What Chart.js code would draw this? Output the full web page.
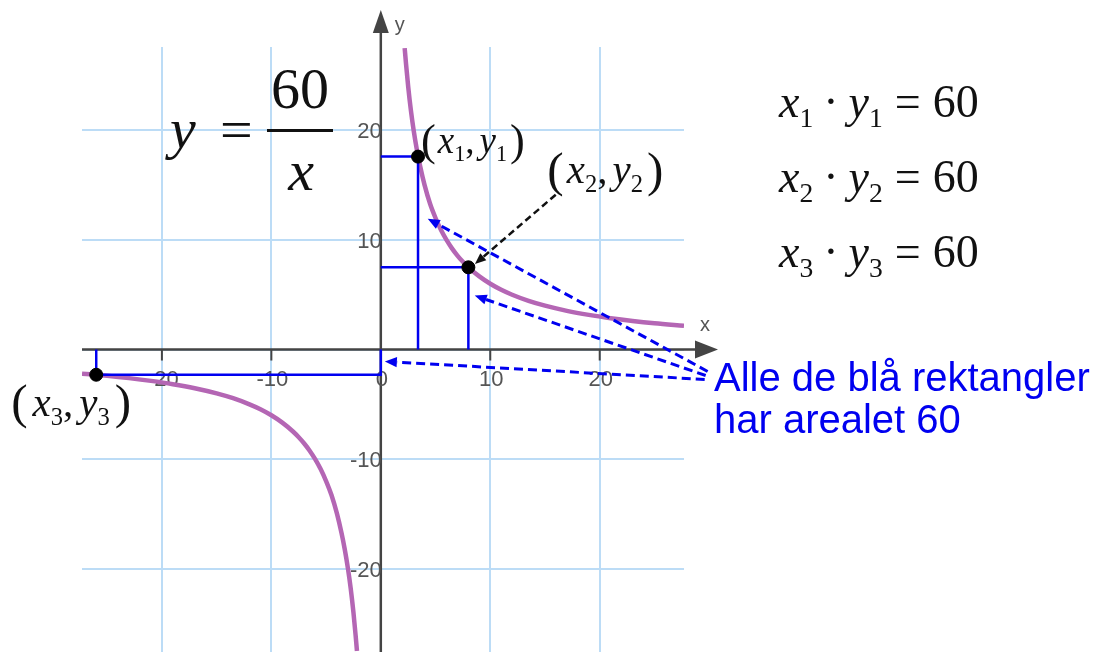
<!DOCTYPE html>
<html>
<head>
<meta charset="utf-8">
<script src="https://cdn.jsdelivr.net/npm/chart.js@4.4.1/dist/chart.umd.min.js"></script>
<style>
  html, body { margin: 0; padding: 0; background: #fff; overflow: hidden; }
  #wrap { position: relative; width: 1097px; height: 659px; }
</style>
</head>
<body>
<div id="wrap"><canvas id="chart"></canvas></div>
<script>
// axis ranges and grid
const xMin = -27.3, xMax = 27.7;
const yMin = -27.55, yMax = 27.6;
const gridX = [-20, -10, 0, 10, 20];
const gridY = [-20, -10, 0, 10, 20];
const xTickLabels = ['-20', '-10', '0', '10', '20'];
const yTickValues = [20, 10, -10, -20];
const yTickLabels = ['20', '10', '-10', '-20'];

// the two branches of y = 60/x
const upperX = [2.18, 2.3, 2.5, 2.75, 3, 3.3, 3.6, 4, 4.5, 5, 5.5, 6, 6.5, 7, 7.5, 8, 9, 10, 11, 12, 13.5, 15, 17, 19, 21, 23, 25, 27.7];
const upperY = [27.5, 26.1, 24, 21.8, 20, 18.2, 16.7, 15, 13.3, 12, 10.9, 10, 9.23, 8.57, 8, 7.5, 6.67, 6, 5.45, 5, 4.44, 4, 3.53, 3.16, 2.86, 2.61, 2.4, 2.17];
const lowerX = [-27.3, -25, -23, -21, -19, -17, -15, -13.5, -12, -11, -10, -9, -8, -7.5, -7, -6.5, -6, -5.5, -5, -4.5, -4, -3.6, -3.3, -3, -2.75, -2.5, -2.3, -2.18];
const lowerY = [-2.2, -2.4, -2.61, -2.86, -3.16, -3.53, -4, -4.44, -5, -5.45, -6, -6.67, -7.5, -8, -8.57, -9.23, -10, -10.9, -12, -13.3, -15, -16.7, -18.2, -20, -21.8, -24, -26.1, -27.5];

// the three marked points
const pointX = [3.4, 8, -26];
const pointY = [17.6, 7.5, -2.3];

// dashed arrows (data units): blue ones from the note, black one from the (x2,y2) label
const blueArrowFrom = [[29.86, -2.0], [29.68, -2.37], [29.59, -2.73]];
const blueArrowTo = [[4.29, 11.94], [8.58, 4.92], [0.37, -1.09]];
const blackArrowFrom = [15.98, 14.12];
const blackArrowTo = [8.6, 7.8];

const toXY = (xs, ys) => xs.map((x, i) => ({ x, y: ys[i] }));

const BLUE = '#0000f0';
const CURVE = '#b466b4';
const AXIS = '#444444';
const TICK_TEXT = '#555555';
const GRID = '#bcdcf6';
const SERIF = '"Liberation Serif", "Times New Roman", serif';
const SANS = '"Liberation Sans", Arial, sans-serif';

function rectData(i) {
  const x = pointX[i], y = pointY[i];
  if (x > 0) return [{ x: 0, y }, { x, y }, { x, y: 0 }];
  return [{ x, y: 0 }, { x, y }, { x: 0, y }, { x: 0, y: 0 }];
}

// draw a row of math pieces: [text, style] or a number gap
function mathRun(ctx, parts, x, y, size) {
  let cx = x;
  parts.forEach(p => {
    if (typeof p === 'number') { cx += p; return; }
    const [t, st] = p;
    let fs = size, dy = 0;
    if (st === 's') { fs = size * 0.6; dy = size * 0.22; }
    if (st === 'p') { fs = size * 1.2; dy = size * 0.06; }
    ctx.font = (st === 'i' ? 'italic ' : '') + fs + 'px ' + SERIF;
    ctx.fillText(t, cx, y + dy);
    cx += ctx.measureText(t).width;
  });
  return cx;
}

function arrow(ctx, x0, y0, x1, y1, color, width, dash, head) {
  const a = Math.atan2(y1 - y0, x1 - x0);
  const bx = x1 - Math.cos(a) * head, by = y1 - Math.sin(a) * head;
  ctx.save();
  ctx.strokeStyle = color;
  ctx.fillStyle = color;
  ctx.lineWidth = width;
  ctx.setLineDash(dash);
  ctx.beginPath();
  ctx.moveTo(x0, y0);
  ctx.lineTo(bx, by);
  ctx.stroke();
  ctx.setLineDash([]);
  const w = head * 0.42;
  ctx.beginPath();
  ctx.moveTo(x1, y1);
  ctx.lineTo(bx + Math.sin(a) * w, by - Math.cos(a) * w);
  ctx.lineTo(bx - Math.sin(a) * w, by + Math.cos(a) * w);
  ctx.closePath();
  ctx.fill();
  ctx.restore();
}

// axes with arrow heads, tick marks and tick labels
const axesPlugin = {
  id: 'axes',
  beforeDatasetsDraw(chart) {
    const { ctx, chartArea, scales: { x, y } } = chart;
    const x0 = x.getPixelForValue(0);
    const y0 = y.getPixelForValue(0);
    ctx.save();
    ctx.strokeStyle = AXIS;
    ctx.fillStyle = AXIS;
    ctx.lineWidth = 2.5;

    const xTip = chartArea.right + 34;
    const yTip = chartArea.top - 37;
    ctx.beginPath();
    ctx.moveTo(chartArea.left, y0);
    ctx.lineTo(xTip - 10, y0);
    ctx.moveTo(x0, chart.height);
    ctx.lineTo(x0, yTip + 10);
    ctx.stroke();

    ctx.beginPath();
    ctx.moveTo(xTip, y0);
    ctx.lineTo(xTip - 23, y0 - 9);
    ctx.lineTo(xTip - 23, y0 + 9);
    ctx.closePath();
    ctx.fill();
    ctx.beginPath();
    ctx.moveTo(x0, yTip);
    ctx.lineTo(x0 - 8, yTip + 23);
    ctx.lineTo(x0 + 8, yTip + 23);
    ctx.closePath();
    ctx.fill();

    // small ticks below the x axis
    ctx.lineWidth = 2;
    gridX.forEach(v => {
      if (v === 0) return;
      const px = x.getPixelForValue(v);
      ctx.beginPath();
      ctx.moveTo(px, y0);
      ctx.lineTo(px, y0 + 11);
      ctx.stroke();
    });

    ctx.fillStyle = TICK_TEXT;
    ctx.font = '22px ' + SANS;
    ctx.textAlign = 'center';
    ctx.textBaseline = 'middle';
    gridX.forEach((v, i) => {
      ctx.fillText(xTickLabels[i], x.getPixelForValue(v) + 1, y0 + 30);
    });
    ctx.textAlign = 'right';
    yTickValues.forEach((v, i) => {
      ctx.fillText(yTickLabels[i], x0 + 1, y.getPixelForValue(v) + 2);
    });

    ctx.font = '20px ' + SANS;
    ctx.textAlign = 'center';
    ctx.fillText('x', xTip - 13, y0 - 24);
    ctx.fillText('y', x0 + 19, yTip + 15);
    ctx.restore();
  }
};

// formula, point labels, notes and dashed arrows
const notesPlugin = {
  id: 'notes',
  afterDraw(chart) {
    const { ctx, scales: { x, y } } = chart;
    const px = v => x.getPixelForValue(v);
    const py = v => y.getPixelForValue(v);
    ctx.save();
    ctx.fillStyle = '#111';
    ctx.textAlign = 'left';
    ctx.textBaseline = 'alphabetic';

    // y = 60 / x
    ctx.font = 'italic 58px ' + SERIF;
    ctx.fillText('y', 170, 148);
    ctx.font = '58px ' + SERIF;
    ctx.fillText('=', 220, 149);
    ctx.textAlign = 'center';
    ctx.fillText('60', 300, 108);
    ctx.font = 'italic 58px ' + SERIF;
    ctx.fillText('x', 301, 190);
    ctx.fillRect(267, 129, 66, 3);
    ctx.textAlign = 'left';

    // x_i * y_i = 60
    ['1', '2', '3'].forEach((n, i) => {
      mathRun(ctx, [['x', 'i'], [n, 's'], 10, ['\u00b7', 'r'], 10, ['y', 'i'], [n, 's'], 12,
        ['=', 'r'], 12, ['60', 'r']], 779, 117 + i * 75, 46);
    });

    // point labels
    mathRun(ctx, [['(', 'p'], 2, ['x', 'i'], ['1', 's'], [',', 'r'], 5, ['y', 'i'], ['1', 's'], 3, [')', 'p']],
      px(pointX[0]) + 3, py(pointY[0]) - 4, 37);
    mathRun(ctx, [['(', 'p'], 3, ['x', 'i'], ['2', 's'], [',', 'r'], 5, ['y', 'i'], ['2', 's'], 4, [')', 'p']],
      px(pointX[1]) + 79, py(pointY[1]) - 84, 41);
    mathRun(ctx, [['(', 'p'], 5, ['x', 'i'], ['3', 's'], [',', 'r'], 6, ['y', 'i'], ['3', 's'], 5, [')', 'p']],
      px(pointX[2]) - 85, py(pointY[2]) + 41, 41);

    // dashed arrows
    blueArrowFrom.forEach((f, i) => {
      const t = blueArrowTo[i];
      arrow(ctx, px(f[0]), py(f[1]), px(t[0]), py(t[1]), BLUE, 3, [9, 5], 12);
    });
    arrow(ctx, px(blackArrowFrom[0]), py(blackArrowFrom[1]), px(blackArrowTo[0]), py(blackArrowTo[1]),
      '#111', 2.5, [7, 4], 11);

    // note
    ctx.fillStyle = BLUE;
    ctx.font = '40px ' + SANS;
    ctx.fillText('Alle de blå rektangler', 714, 391);
    ctx.fillText('har arealet 60', 714, 433);
    ctx.restore();
  }
};

const gridScale = (min, max, values) => ({
  type: 'linear',
  min, max,
  afterBuildTicks: s => { s.ticks = values.map(v => ({ value: v })); },
  afterFit: s => { if (s.isHorizontal()) s.height = 0; else s.width = 0; },
  ticks: { display: false },
  grid: { color: GRID, lineWidth: 2, drawTicks: false },
  border: { display: false }
});

new Chart(document.getElementById('chart'), {
  type: 'line',
  data: {
    datasets: [
      {
        label: 'Punkter',
        data: toXY(pointX, pointY),
        showLine: false,
        pointRadius: 6.5,
        pointBackgroundColor: '#000',
        pointBorderColor: '#000'
      },
      ...[0, 1, 2].map(i => ({
        label: 'Rektangel ' + (i + 1),
        data: rectData(i),
        borderColor: BLUE,
        borderWidth: 2.5,
        pointRadius: 0,
        tension: 0
      })),
      {
        label: 'y = 60/x (x > 0)',
        data: toXY(upperX, upperY),
        borderColor: CURVE,
        borderWidth: 4.5,
        pointRadius: 0,
        cubicInterpolationMode: 'monotone'
      },
      {
        label: 'y = 60/x (x < 0)',
        data: toXY(lowerX, lowerY),
        borderColor: CURVE,
        borderWidth: 4.5,
        pointRadius: 0,
        cubicInterpolationMode: 'monotone'
      }
    ]
  },
  options: {
    responsive: true,
    maintainAspectRatio: false,
    animation: false,
    layout: { padding: { left: 82, top: 47, right: 413, bottom: 0 } },
    plugins: { legend: { display: false }, tooltip: { enabled: false } },
    scales: {
      x: gridScale(xMin, xMax, gridX),
      y: gridScale(yMin, yMax, gridY)
    }
  },
  plugins: [axesPlugin, notesPlugin]
});
</script>
</body>
</html>
